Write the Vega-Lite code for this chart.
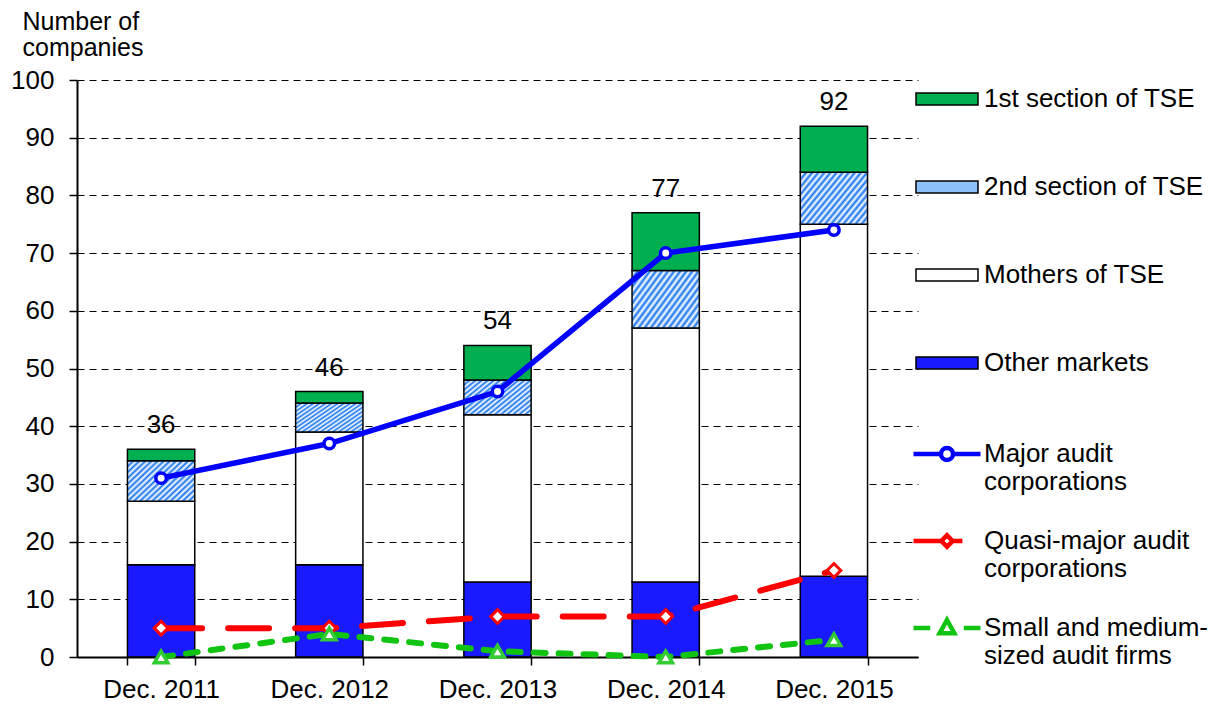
{
  "$schema": "https://vega.github.io/schema/vega-lite/v6.json",
  "width": 841,
  "height": 577,
  "padding": {"left": 10, "top": 9, "right": 0, "bottom": 0},
  "autosize": {"type": "pad"},
  "config": {
    "font": "Liberation Sans",
    "view": {"stroke": null},
    "legend": {"labelFontSize": 26, "labelColor": "black", "labelLimit": 320, "padding": 0, "titlePadding": 0}
  },
  "datasets": {
    "bars": [
      {"date": "Dec. 2011", "series": "Other markets", "k": 1, "n": 16},
      {"date": "Dec. 2011", "series": "Mothers of TSE", "k": 2, "n": 11},
      {"date": "Dec. 2011", "series": "2nd section of TSE", "k": 3, "n": 7},
      {"date": "Dec. 2011", "series": "1st section of TSE", "k": 4, "n": 2},
      {"date": "Dec. 2012", "series": "Other markets", "k": 1, "n": 16},
      {"date": "Dec. 2012", "series": "Mothers of TSE", "k": 2, "n": 23},
      {"date": "Dec. 2012", "series": "2nd section of TSE", "k": 3, "n": 5},
      {"date": "Dec. 2012", "series": "1st section of TSE", "k": 4, "n": 2},
      {"date": "Dec. 2013", "series": "Other markets", "k": 1, "n": 13},
      {"date": "Dec. 2013", "series": "Mothers of TSE", "k": 2, "n": 29},
      {"date": "Dec. 2013", "series": "2nd section of TSE", "k": 3, "n": 6},
      {"date": "Dec. 2013", "series": "1st section of TSE", "k": 4, "n": 6},
      {"date": "Dec. 2014", "series": "Other markets", "k": 1, "n": 13},
      {"date": "Dec. 2014", "series": "Mothers of TSE", "k": 2, "n": 44},
      {"date": "Dec. 2014", "series": "2nd section of TSE", "k": 3, "n": 10},
      {"date": "Dec. 2014", "series": "1st section of TSE", "k": 4, "n": 10},
      {"date": "Dec. 2015", "series": "Other markets", "k": 1, "n": 14},
      {"date": "Dec. 2015", "series": "Mothers of TSE", "k": 2, "n": 61},
      {"date": "Dec. 2015", "series": "2nd section of TSE", "k": 3, "n": 9},
      {"date": "Dec. 2015", "series": "1st section of TSE", "k": 4, "n": 8}
    ],
    "lines": [
      {"date": "Dec. 2011", "series": "Major audit corporations", "n": 31},
      {"date": "Dec. 2012", "series": "Major audit corporations", "n": 37},
      {"date": "Dec. 2013", "series": "Major audit corporations", "n": 46},
      {"date": "Dec. 2014", "series": "Major audit corporations", "n": 70},
      {"date": "Dec. 2015", "series": "Major audit corporations", "n": 74},
      {"date": "Dec. 2011", "series": "Quasi-major audit corporations", "n": 5},
      {"date": "Dec. 2012", "series": "Quasi-major audit corporations", "n": 5},
      {"date": "Dec. 2013", "series": "Quasi-major audit corporations", "n": 7},
      {"date": "Dec. 2014", "series": "Quasi-major audit corporations", "n": 7},
      {"date": "Dec. 2015", "series": "Quasi-major audit corporations", "n": 15},
      {"date": "Dec. 2011", "series": "Small and medium-sized audit firms", "n": 0},
      {"date": "Dec. 2012", "series": "Small and medium-sized audit firms", "n": 4},
      {"date": "Dec. 2013", "series": "Small and medium-sized audit firms", "n": 1},
      {"date": "Dec. 2014", "series": "Small and medium-sized audit firms", "n": 0},
      {"date": "Dec. 2015", "series": "Small and medium-sized audit firms", "n": 3}
    ]
  },
  "layer": [
    {
      "data": {"name": "bars"},
      "mark": {"type": "bar", "stroke": "black", "strokeWidth": 1.5},
      "encoding": {
        "x": {
          "field": "date", "type": "nominal",
          "scale": {"domain": ["Dec. 2011", "Dec. 2012", "Dec. 2013", "Dec. 2014", "Dec. 2015"], "paddingInner": 0.6, "paddingOuter": 0.3},
          "axis": {"title": null, "labelAngle": 0, "labelFontSize": 26, "labelColor": "black", "labelPadding": 11, "tickSize": 8, "tickColor": "black", "tickWidth": 1.5, "tickBand": "extent", "domainColor": "black", "domainWidth": 2, "grid": false}
        },
        "y": {
          "field": "n", "type": "quantitative", "stack": "zero",
          "scale": {"domain": [0, 100], "nice": false},
          "axis": {
            "title": ["Number of", "companies"], "titleAngle": 0, "titleAlign": "left", "titleBaseline": "top",
            "titleX": -55, "titleY": -71, "titleFontSize": 25, "titleFontWeight": "normal", "titleColor": "black", "titleLineHeight": 26,
            "values": [0, 10, 20, 30, 40, 50, 60, 70, 80, 90, 100],
            "labelFontSize": 26, "labelColor": "black", "labelPadding": 15,
            "tickSize": 8, "tickColor": "black", "tickWidth": 1.5,
            "domainColor": "black", "domainWidth": 2,
            "grid": true, "gridColor": "black", "gridDash": [7, 5], "gridWidth": 1
          }
        },
        "fill": {
          "condition": {
            "test": "datum.series === '2nd section of TSE'",
            "value": {"gradient": "linear", "x1": 0, "y1": 0, "x2": 1.167, "y2": 0.735, "stops": [
              {"offset": 0, "color": "#1874ee"}, {"offset": 0.0278, "color": "#ffffff"}, {"offset": 0.0556, "color": "#1874ee"}, {"offset": 0.0833, "color": "#ffffff"},
              {"offset": 0.1111, "color": "#1874ee"}, {"offset": 0.1389, "color": "#ffffff"}, {"offset": 0.1667, "color": "#1874ee"}, {"offset": 0.1944, "color": "#ffffff"},
              {"offset": 0.2222, "color": "#1874ee"}, {"offset": 0.25, "color": "#ffffff"}, {"offset": 0.2778, "color": "#1874ee"}, {"offset": 0.3056, "color": "#ffffff"},
              {"offset": 0.3333, "color": "#1874ee"}, {"offset": 0.3611, "color": "#ffffff"}, {"offset": 0.3889, "color": "#1874ee"}, {"offset": 0.4167, "color": "#ffffff"},
              {"offset": 0.4444, "color": "#1874ee"}, {"offset": 0.4722, "color": "#ffffff"}, {"offset": 0.5, "color": "#1874ee"}, {"offset": 0.5278, "color": "#ffffff"},
              {"offset": 0.5556, "color": "#1874ee"}, {"offset": 0.5833, "color": "#ffffff"}, {"offset": 0.6111, "color": "#1874ee"}, {"offset": 0.6389, "color": "#ffffff"},
              {"offset": 0.6667, "color": "#1874ee"}, {"offset": 0.6944, "color": "#ffffff"}, {"offset": 0.7222, "color": "#1874ee"}, {"offset": 0.75, "color": "#ffffff"},
              {"offset": 0.7778, "color": "#1874ee"}, {"offset": 0.8056, "color": "#ffffff"}, {"offset": 0.8333, "color": "#1874ee"}, {"offset": 0.8611, "color": "#ffffff"},
              {"offset": 0.8889, "color": "#1874ee"}, {"offset": 0.9167, "color": "#ffffff"}, {"offset": 0.9444, "color": "#1874ee"}, {"offset": 0.9722, "color": "#ffffff"},
              {"offset": 1, "color": "#1874ee"}
            ]}
          },
          "field": "series", "type": "nominal",
          "scale": {
            "domain": ["1st section of TSE", "2nd section of TSE", "Mothers of TSE", "Other markets"],
            "range": ["#00b050", "#8cc0f8", "#ffffff", "#1a1aff"]
          },
          "legend": {
            "title": null, "orient": "none", "legendX": 838, "legendY": -13,
            "symbolType": "M-1,-0.19H1V0.19H-1Z", "symbolSize": 3844,
            "symbolStrokeWidth": 1.5, "symbolOpacity": 1,
            "rowPadding": 43, "labelOffset": 5, "labelBaseline": "middle",
            "encode": {
              "symbols": {
                "stroke": {"value": "black"},
                "strokeWidth": {"value": 1.5},
                "fill": {
                  "condition": [
                    {"test": "datum.value === '1st section of TSE'", "value": "#00b050"},
                    {"test": "datum.value === '2nd section of TSE'", "value": {"gradient": "linear", "x1": 0, "y1": 0, "x2": 1.151, "y2": 0.223, "stops": [
                      {"offset": 0, "color": "#1874ee"}, {"offset": 0.0357, "color": "#ffffff"}, {"offset": 0.0714, "color": "#1874ee"}, {"offset": 0.1071, "color": "#ffffff"},
                      {"offset": 0.1429, "color": "#1874ee"}, {"offset": 0.1786, "color": "#ffffff"}, {"offset": 0.2143, "color": "#1874ee"}, {"offset": 0.25, "color": "#ffffff"},
                      {"offset": 0.2857, "color": "#1874ee"}, {"offset": 0.3214, "color": "#ffffff"}, {"offset": 0.3571, "color": "#1874ee"}, {"offset": 0.3929, "color": "#ffffff"},
                      {"offset": 0.4286, "color": "#1874ee"}, {"offset": 0.4643, "color": "#ffffff"}, {"offset": 0.5, "color": "#1874ee"}, {"offset": 0.5357, "color": "#ffffff"},
                      {"offset": 0.5714, "color": "#1874ee"}, {"offset": 0.6071, "color": "#ffffff"}, {"offset": 0.6429, "color": "#1874ee"}, {"offset": 0.6786, "color": "#ffffff"},
                      {"offset": 0.7143, "color": "#1874ee"}, {"offset": 0.75, "color": "#ffffff"}, {"offset": 0.7857, "color": "#1874ee"}, {"offset": 0.8214, "color": "#ffffff"},
                      {"offset": 0.8571, "color": "#1874ee"}, {"offset": 0.8929, "color": "#ffffff"}, {"offset": 0.9286, "color": "#1874ee"}, {"offset": 0.9643, "color": "#ffffff"},
                      {"offset": 1, "color": "#1874ee"}
                    ]}},
                    {"test": "datum.value === 'Mothers of TSE'", "value": "#ffffff"}
                  ],
                  "value": "#1a1aff"
                }
              }
            }
          }
        },
        "order": {"field": "k", "type": "quantitative"}
      }
    },
    {
      "data": {"name": "bars"},
      "transform": [{"aggregate": [{"op": "sum", "field": "n", "as": "total"}], "groupby": ["date"]}],
      "mark": {"type": "text", "fontSize": 26, "color": "black", "baseline": "middle", "dy": -24},
      "encoding": {
        "x": {"field": "date", "type": "nominal"},
        "y": {"field": "total", "type": "quantitative"},
        "text": {"field": "total", "type": "quantitative"}
      }
    },
    {
      "data": {"name": "lines"},
      "transform": [{"filter": "datum.series === 'Major audit corporations'"}],
      "mark": {"type": "line", "color": "#0000ff", "strokeWidth": 5.5, "strokeCap": "round"},
      "encoding": {
        "x": {"field": "date", "type": "nominal"},
        "y": {"field": "n", "type": "quantitative"}
      }
    },
    {
      "data": {"name": "lines"},
      "transform": [{"filter": "datum.series === 'Quasi-major audit corporations'"}],
      "mark": {"type": "line", "color": "#ff0000", "strokeWidth": 6, "strokeCap": "round", "strokeDash": [41, 26]},
      "encoding": {
        "x": {"field": "date", "type": "nominal"},
        "y": {"field": "n", "type": "quantitative"}
      }
    },
    {
      "data": {"name": "lines"},
      "transform": [{"filter": "datum.series === 'Small and medium-sized audit firms'"}],
      "mark": {"type": "line", "color": "#11c411", "strokeWidth": 6, "strokeCap": "round", "strokeDash": [12, 13]},
      "encoding": {
        "x": {"field": "date", "type": "nominal"},
        "y": {"field": "n", "type": "quantitative"}
      }
    },
    {
      "data": {"name": "lines"},
      "transform": [{"filter": "datum.series === 'Major audit corporations'"}],
      "mark": {"type": "point", "shape": "circle", "size": 110, "filled": true, "fill": "white", "stroke": "#0000ff", "strokeWidth": 3.5, "opacity": 1},
      "encoding": {
        "x": {"field": "date", "type": "nominal"},
        "y": {"field": "n", "type": "quantitative"}
      }
    },
    {
      "data": {"name": "lines"},
      "transform": [{"filter": "datum.series === 'Quasi-major audit corporations'"}],
      "mark": {"type": "point", "shape": "diamond", "size": 190, "filled": true, "fill": "white", "stroke": "#ff0000", "strokeWidth": 3, "opacity": 1},
      "encoding": {
        "x": {"field": "date", "type": "nominal"},
        "y": {"field": "n", "type": "quantitative"}
      }
    },
    {
      "data": {"name": "lines"},
      "transform": [{"filter": "datum.series === 'Small and medium-sized audit firms'"}],
      "mark": {"type": "point", "shape": "triangle-up", "size": 180, "filled": true, "fill": "white", "stroke": "#33cc33", "strokeWidth": 3.5, "opacity": 1},
      "encoding": {
        "x": {"field": "date", "type": "nominal"},
        "y": {"field": "n", "type": "quantitative"}
      }
    },
    {
      "data": {"name": "lines"},
      "transform": [{"filter": "false"}],
      "mark": {"type": "point", "filled": false, "opacity": 1, "strokeWidth": 4.5},
      "encoding": {
        "x": {"field": "date", "type": "nominal"},
        "y": {"field": "n", "type": "quantitative"},
        "stroke": {
          "field": "series", "type": "nominal",
          "scale": {"domain": ["Major audit corporations", "Quasi-major audit corporations", "Small and medium-sized audit firms"], "range": ["#0000ff", "#ff0000", "#11c411"]},
          "legend": {
            "title": null, "orient": "none", "legendX": 834, "legendY": 338,
            "symbolSize": 4489, "symbolStrokeWidth": 4.5, "symbolFillColor": "white", "symbolOpacity": 1,
            "rowPadding": 10, "labelOffset": 1, "labelBaseline": "middle",
            "labelExpr": "datum.label === 'Major audit corporations' ? ['Major audit', 'corporations'] : datum.label === 'Quasi-major audit corporations' ? ['Quasi-major audit', 'corporations'] : ['Small and medium-', 'sized audit firms']",
            "encode": {
              "symbols": {"fill": {"value": "white"}, "strokeCap": {"value": "round"}, "strokeWidth": {"value": 4.5}},
              "labels": {"lineHeight": {"value": 30}}
            }
          }
        },
        "shape": {
          "field": "series", "type": "nominal",
          "scale": {
            "domain": ["Major audit corporations", "Quasi-major audit corporations", "Small and medium-sized audit firms"],
            "range": [
              "M-1,0H-0.18M0.18,0H1M0.18,0A0.18,0.18,0,1,1,-0.18,0A0.18,0.18,0,1,1,0.18,0Z",
              "M-1,0H-0.17M0.17,0H0.46M0,-0.17L0.17,0L0,0.17L-0.17,0Z",
              "M-1,0H-0.5M0.5,0H1M0,-0.24L0.22,0.16L-0.22,0.16Z"
            ]
          },
          "legend": {
            "title": null, "orient": "none", "legendX": 834, "legendY": 338,
            "symbolSize": 4489, "symbolStrokeWidth": 4.5, "symbolFillColor": "white", "symbolOpacity": 1,
            "rowPadding": 10, "labelOffset": 1, "labelBaseline": "middle",
            "labelExpr": "datum.label === 'Major audit corporations' ? ['Major audit', 'corporations'] : datum.label === 'Quasi-major audit corporations' ? ['Quasi-major audit', 'corporations'] : ['Small and medium-', 'sized audit firms']",
            "encode": {
              "symbols": {"fill": {"value": "white"}, "strokeCap": {"value": "round"}, "strokeWidth": {"value": 4.5}},
              "labels": {"lineHeight": {"value": 30}}
            }
          }
        }
      }
    }
  ]
}
